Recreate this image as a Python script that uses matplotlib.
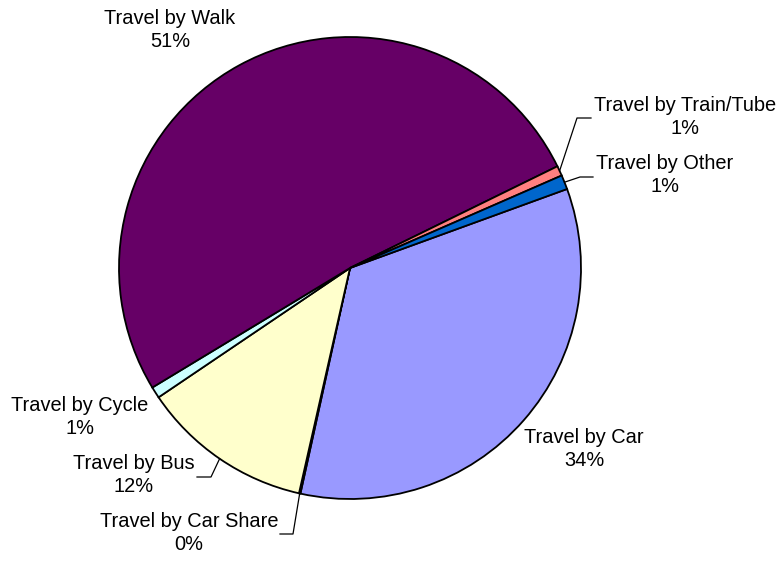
import numpy as np
import matplotlib.pyplot as plt

plt.rcParams['font.family'] = ['Liberation Sans', 'DejaVu Sans']

categories = ['Travel by Car', 'Travel by Car Share', 'Travel by Bus', 'Travel by Cycle',
              'Travel by Walk', 'Travel by Train/Tube', 'Travel by Other']
values = [34.0, 0.1, 12.0, 0.8, 51.4, 0.7, 1.0]
colors = ['#9999FF', '#993366', '#FFFFCC', '#CCFFFF', '#660066', '#FF8080', '#0066CC']

W, H = 781, 561
cx, cy, r = 350, 268, 231
start = 20.0

# label block centres (pixel coords, y down)
label_pos = [(584, 449), (189, 533), (134, 475), (80, 417),
             (170, 30), (685, 117), (665, 175)]
# leader line bend / end points, None = no leader
leaders = [None, [(293, 534), (280, 534)], [(211, 477), (197, 477)], None,
           None, [(577, 118), (591, 118)], [(580, 177), (593, 177)]]


def px(x, y):
    return x, H - y


fig = plt.figure(figsize=(W / 100, H / 100), dpi=100)
ax = fig.add_axes([0, 0, 1, 1])
wedges, _ = ax.pie(values, colors=colors, startangle=start, counterclock=False,
                   center=px(cx, cy), radius=r,
                   wedgeprops=dict(edgecolor='black', linewidth=1.3))

total = sum(values)
for w, name, v, pos, ld in zip(wedges, categories, values, label_pos, leaders):
    ax.text(*px(*pos), '%s\n%d%%' % (name, round(v / total * 100)),
            ha='center', va='center', multialignment='center',
            fontsize=14.4, color='black', linespacing=1.25)
    if ld is not None:
        mid = np.deg2rad((w.theta1 + w.theta2) / 2)
        sx, sy = cx + r * np.cos(mid), cy - r * np.sin(mid)
        pts = [(sx, sy)] + ld
        xs = [p[0] for p in pts]
        ys = [H - p[1] for p in pts]
        ax.plot(xs, ys, color='black', linewidth=0.9)

ax.set_xlim(0, W)
ax.set_ylim(0, H)
ax.axis('off')
fig.savefig('out.png', dpi=100, facecolor='white')
